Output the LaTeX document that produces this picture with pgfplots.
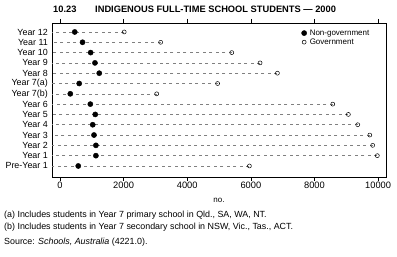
\documentclass[border=0pt]{standalone}
\usepackage{pgfplots}
\pgfplotsset{compat=1.18}
\usepackage{pgfplotstable}
\usepackage{fontspec}
\setmainfont{Liberation Sans}
\pgfplotstableread{
idx nongov gov
13 465 2020
12 710 3165
11 965 5400
10 1100 6290
9 1235 6835
8 605 4955
7 325 3040
6 955 8575
5 1110 9065
4 1030 9360
3 1070 9740
2 1130 9830
1 1130 9975
0 575 5955
}\datatable
\begin{document}
\begin{tikzpicture}[x=1pt,y=1pt]
\begin{axis}[
  at={(52pt,80pt)}, anchor=south west,
  scale only axis=true,
  width=334.7pt, height=154pt,
  xmin=-250, xmax=10270,
  ymin=-1.07, ymax=13.87,
  xtick={0,2000,4000,6000,8000,10000},
  scaled x ticks=false,
  xtick pos=both,
  tick align=outside,
  major tick length=4pt,
  xtick style={black, line width=0.5pt},
  ytick={0,...,13},
  yticklabels={Pre-Year 1,Year 1,Year 2,Year 3,Year 4,Year 5,Year 6,Year 7(b),Year 7(a),Year 8,Year 9,Year 10,Year 11,Year 12},
  ytick style={draw=none},
  y tick label style={font=\fontsize{8.9}{9}\selectfont, inner sep=0pt, xshift=0pt},
  x tick label style={font=\fontsize{9.3}{10}\selectfont, inner sep=1pt},
  /pgf/number format/assume math mode=true,
  /pgf/number format/1000 sep={},
  axis line style={black, line width=0.6pt},
  legend style={at={(0.745,0.965)}, anchor=north west, draw=none, fill=none,
    font=\fontsize{8}{9}\selectfont, row sep=0pt, inner sep=0pt,
    nodes={inner sep=1pt}, column sep=2pt},
  legend cell align=left,
  clip=false,
]
\addplot[draw=none, forget plot,
  error bars/.cd, x dir=minus, x explicit,
  error bar style={gray, dash pattern=on 3pt off 3.5pt, line width=0.5pt},
  error mark=none]
  table[x=gov, y=idx, x error expr=\thisrow{gov}+250] {\datatable};
\addplot[only marks, mark=*, mark size=2.6pt, black, mark options={fill=black}]
  table[x=nongov, y=idx] {\datatable};
\addplot[only marks, mark=o, mark size=2pt, black, line width=0.5pt, mark options={fill=white}]
  table[x=gov, y=idx] {\datatable};
\legend{Non-government, Government}
\end{axis}
\node[anchor=base west, font=\fontsize{9.3}{10}\bfseries\selectfont, inner sep=0pt] at (53,244.3) {10.23};
\node[anchor=base west, font=\fontsize{9.3}{10}\bfseries\selectfont, inner sep=0pt] at (95,244.3) {INDIGENOUS FULL-TIME SCHOOL STUDENTS --- 2000};
\node[font=\fontsize{8}{9}\selectfont, inner sep=0pt] at (219,57) {no.};
\node[anchor=west, font=\fontsize{8.9}{9}\selectfont, inner sep=0pt] at (4,42) {(a) Includes students in Year 7 primary school in Qld., SA, WA, NT.};
\node[anchor=west, font=\fontsize{8.9}{9}\selectfont, inner sep=0pt] at (4,30) {(b) Includes students in Year 7 secondary school in NSW, Vic., Tas., ACT.};
\node[anchor=west, font=\fontsize{8.9}{9}\selectfont, inner sep=0pt] at (4,15) {Source: \textit{Schools, Australia} (4221.0).};
\pgfresetboundingbox
\path[use as bounding box] (0,0) rectangle (397,257);
\end{tikzpicture}
\end{document}
